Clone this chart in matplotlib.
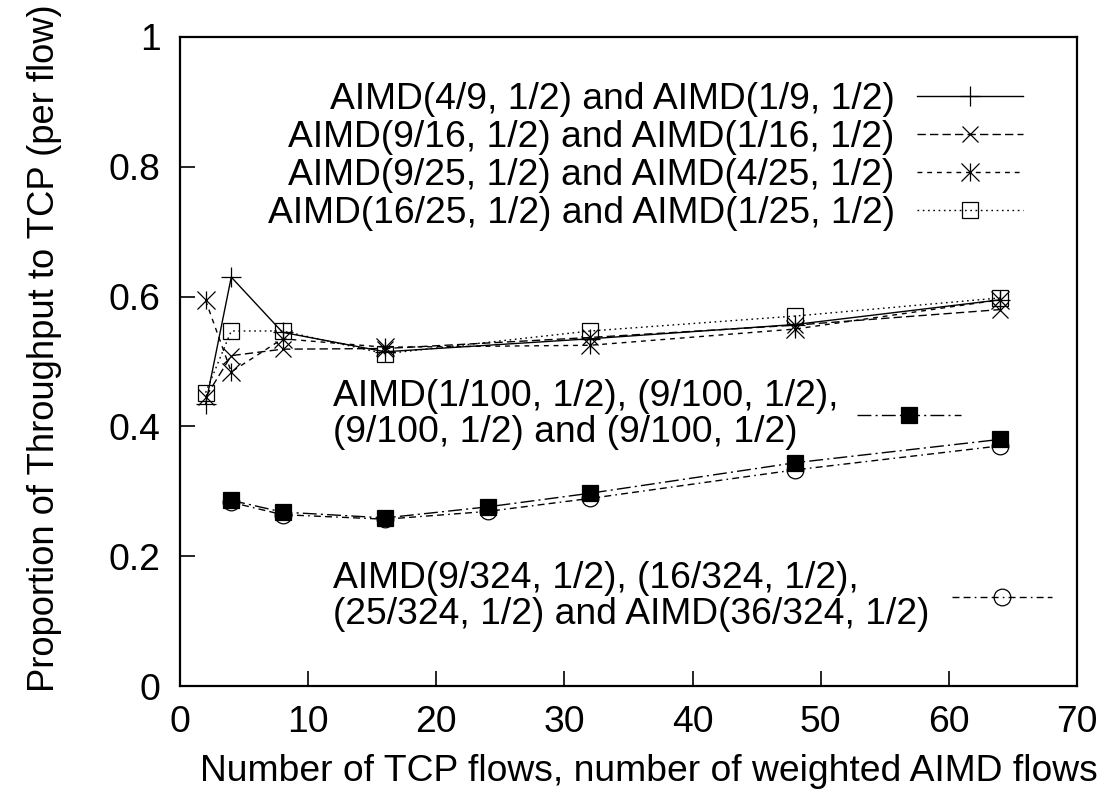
import matplotlib
matplotlib.use("Agg")
from matplotlib import pyplot as plt
from matplotlib.path import Path

plt.rcParams['font.family'] = ['Liberation Sans', 'DejaVu Sans']

# number of flows (x) for the two groups of runs
x_upper = [2, 4, 8, 16, 32, 48, 64]
x_lower = [4, 8, 16, 24, 32, 48, 64]

# proportion of throughput to TCP (per flow)
aimd_4_9 = [0.434, 0.630, 0.545, 0.515, 0.535, 0.557, 0.595]
aimd_9_16 = [0.445, 0.509, 0.519, 0.520, 0.537, 0.556, 0.580]
aimd_9_25 = [0.594, 0.484, 0.535, 0.522, 0.525, 0.550, 0.595]
aimd_16_25 = [0.452, 0.547, 0.547, 0.512, 0.547, 0.570, 0.598]
aimd_1_100 = [0.286, 0.268, 0.259, 0.276, 0.297, 0.344, 0.380]
aimd_9_324 = [0.283, 0.264, 0.257, 0.269, 0.289, 0.333, 0.370]

labels_upper = ['AIMD(4/9, 1/2) and AIMD(1/9, 1/2)',
                'AIMD(9/16, 1/2) and AIMD(1/16, 1/2)',
                'AIMD(9/25, 1/2) and AIMD(4/25, 1/2)',
                'AIMD(16/25, 1/2) and AIMD(1/25, 1/2)']
label_100 = 'AIMD(1/100, 1/2), (9/100, 1/2),\n(9/100, 1/2) and (9/100, 1/2)'
label_324 = 'AIMD(9/324, 1/2), (16/324, 1/2),\n(25/324, 1/2) and AIMD(36/324, 1/2)'

# gnuplot style asterisk: vertical bar plus a cross
star = Path([(0, -1), (0, 1), (-1, -1), (1, 1), (-1, 1), (1, -1)],
            [Path.MOVETO, Path.LINETO] * 3)

W, H = 1114, 800
fig = plt.figure(figsize=(W / 100, H / 100), dpi=100)
ax = fig.add_axes([180 / W, 1 - 686 / H, 897 / W, 649 / H])

fs = 26.8
lw = 1.0
mew = 0.9

l1, = ax.plot(x_upper, aimd_4_9, color='k', lw=lw, ls='-', marker='+', ms=14, mew=mew)
l2, = ax.plot(x_upper, aimd_9_16, color='k', lw=lw, ls=(0, (6, 3)), marker='x', ms=11, mew=mew)
l3, = ax.plot(x_upper, aimd_9_25, color='k', lw=lw, ls=(0, (3.5, 3.5)), marker=star, ms=13, mew=mew)
l4, = ax.plot(x_upper, aimd_16_25, color='k', lw=lw, ls=(0, (1.2, 2.6)), marker='s', ms=12,
              mew=mew, mfc='none')
l5, = ax.plot(x_lower, aimd_1_100, color='k', lw=lw, ls=(0, (10, 3, 1.5, 3)), marker='s', ms=12,
              mew=mew, mfc='k')
l6, = ax.plot(x_lower, aimd_9_324, color='k', lw=lw, ls=(0, (5, 3, 5, 3, 1.2, 3)), marker='o', ms=12,
              mew=mew, mfc='none')

ax.set_xlim(0, 70)
ax.set_ylim(0, 1)
ax.set_xticks(range(0, 71, 10))
ax.set_yticks([0, 0.2, 0.4, 0.6, 0.8, 1])
ax.set_yticklabels(['0', '0.2', '0.4', '0.6', '0.8', '1'])
ax.tick_params(direction='in', length=11, width=1.2, labelsize=fs, pad=14,
               top=False, right=False)
for s in ax.spines.values():
    s.set_linewidth(1.6)

ax.set_xlabel('Number of TCP flows, number of weighted AIMD flows', fontsize=fs, labelpad=10)
ax.xaxis.label.set_x(0.523)
ax.set_ylabel('Proportion of Throughput to TCP (per flow)', fontsize=26.2)
ax.yaxis.set_label_coords(-0.132, 0.521)

common = dict(frameon=False, fontsize=fs, markerfirst=False, borderpad=0,
              borderaxespad=0, numpoints=1, bbox_transform=fig.transFigure)

leg1 = ax.legend([l1, l2, l3, l4], labels_upper, loc='upper right',
                 bbox_to_anchor=(1023 / W, 1 - 82 / H), handlelength=2.85,
                 handletextpad=0.6, labelspacing=0.08, **common)
for t in leg1.get_texts():
    t.set_ha('right')
ax.add_artist(leg1)

leg2 = ax.legend([l5], [label_100], loc='upper left',
                 bbox_to_anchor=(333 / W, 1 - 379 / H), handlelength=2.8,
                 handletextpad=0.5, **common)
for t in leg2.get_texts():
    t.set_linespacing(1.03)
ax.add_artist(leg2)

leg3 = ax.legend([l6], [label_324], loc='upper left',
                 bbox_to_anchor=(333 / W, 1 - 561 / H), handlelength=2.7,
                 handletextpad=0.6, **common)
for t in leg3.get_texts():
    t.set_linespacing(1.03)

fig.savefig('out.png', dpi=100)
